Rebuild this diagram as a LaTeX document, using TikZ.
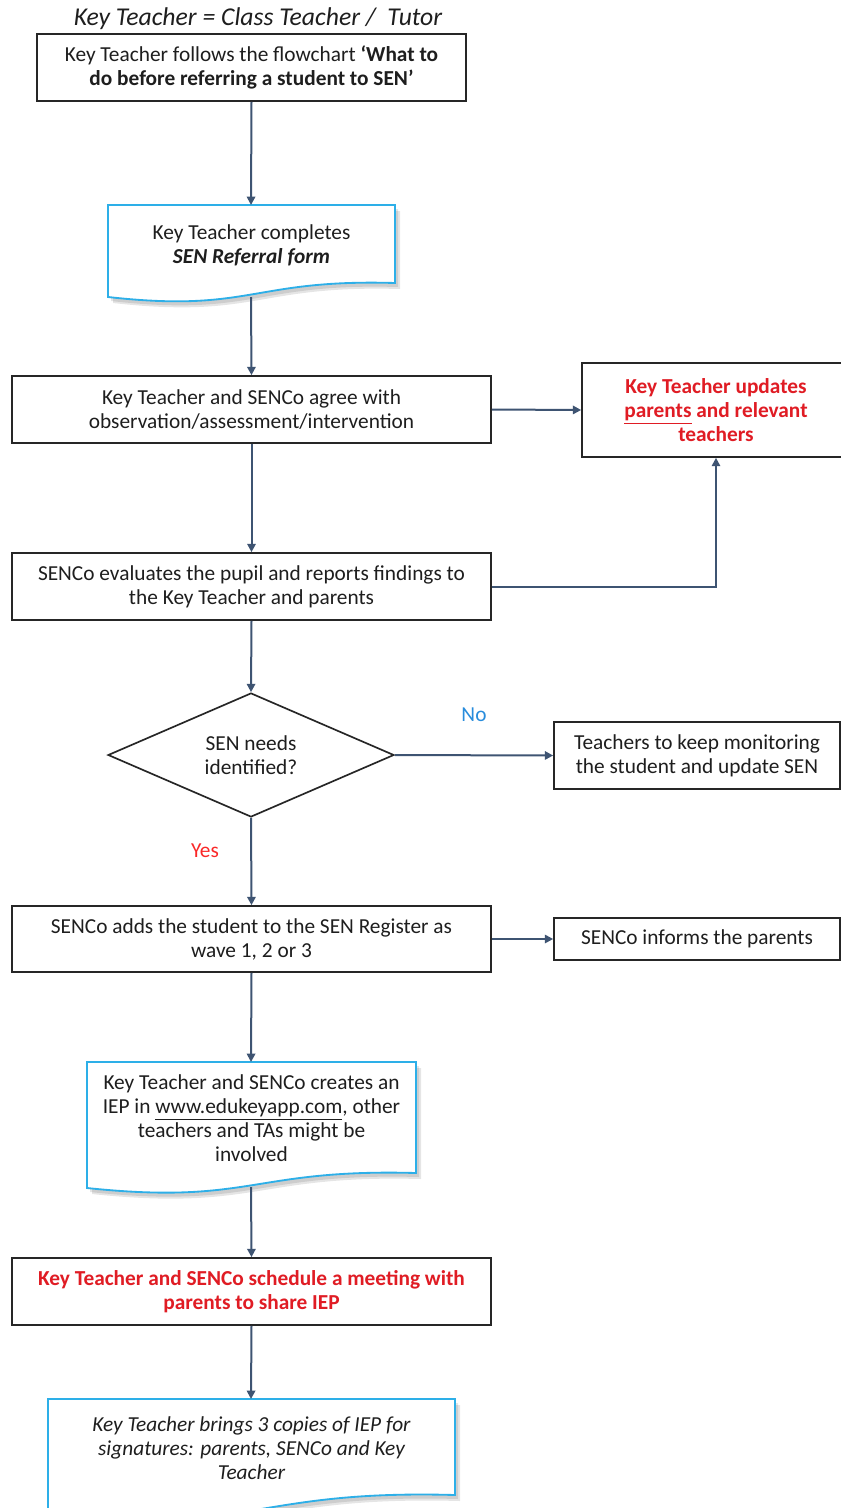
\documentclass[tikz,border=0pt]{standalone}
\usepackage{fontspec}
\setmainfont{Carlito}
\usetikzlibrary{arrows.meta,shapes.geometric}
\definecolor{conn}{RGB}{62,84,114}
\definecolor{docblue}{RGB}{45,175,232}
\definecolor{redtxt}{RGB}{224,28,36}
\definecolor{yesred}{RGB}{250,40,40}
\definecolor{noblue}{RGB}{40,140,220}
\definecolor{txt}{RGB}{30,30,30}
\newcommand\docpath[5]{(#1,#2) -- (#3,#2) -- (#3,{#4-#5}) .. controls ({(#1+#3)/2},{#4-1.3*#5}) and ({(#1+#3)/2},{#4+1.15*#5}) .. (#1,#4) -- cycle}
\newcommand\docshape[5]{%
  \fill[black,opacity=0.10] [shift={(5,6)}] \docpath{#1}{#2}{#3}{#4}{#5};
  \fill[black,opacity=0.10] [shift={(3,4)}] \docpath{#1}{#2}{#3}{#4}{#5};
  \filldraw[draw=docblue,fill=white,line width=1.1pt] \docpath{#1}{#2}{#3}{#4}{#5};}
\tikzset{
  x=0.6pt,y=-0.6pt,
  every node/.style={font=\fontsize{12.8}{14.4}\selectfont,text=txt,align=center},
  box/.style={draw=black!85,line width=1pt,fill=white,inner sep=0pt},
  plain/.style={inner sep=0pt},
  arr/.style={draw=conn,line width=1.2pt,-{Triangle[length=5pt,width=5pt]}},
  redtext/.style={text=redtxt,font=\fontsize{12.8}{14.4}\selectfont\bfseries}
}
\begin{document}
\begin{tikzpicture}
\clip (0,0) rectangle (841,1508);
\fill[white] (0,0) rectangle (841,1508);

\node[plain,font=\fontsize{15.4}{18}\selectfont\itshape] (title) at (258,19) {Key Teacher = Class Teacher /\ \ Tutor};

\node[box,minimum width=257.4pt,minimum height=40.2pt] (b1) at (251.5,67.5)
  {Key Teacher follows the flowchart \textbf{‘What to}\\ \textbf{do before referring a student to SEN’}};

\docshape{108}{205}{395}{297}{14}
\node[plain] (doc1) at (251.5,245.5) {Key Teacher completes\\ \textbf{\itshape SEN Referral form}};
\coordinate (d1t) at (251,205);
\coordinate (d1b) at (251,297);

\node[box,minimum width=287.4pt,minimum height=40.2pt] (b3) at (251.5,409.5)
  {Key Teacher and SENCo agree with\\ observation/assessment/intervention};

\node[box,redtext,minimum width=160.8pt,minimum height=56.4pt] (red) at (716,410)
  {Key Teacher updates\\ \underline{parents} and relevant\\ teachers};

\node[box,minimum width=287.4pt,minimum height=40.2pt] (b4) at (251.5,586.5)
  {SENCo evaluates the pupil and reports findings to\\ the Key Teacher and parents};

\node[draw=black!85,line width=1pt,fill=white,shape=diamond,inner sep=-4pt,minimum width=171.6pt,minimum height=74.4pt] (dia) at (251,755)
  {SEN needs\\ identified?};

\node[box,minimum width=171.6pt,minimum height=40.2pt] (mon) at (697,755.5)
  {Teachers to keep monitoring\\ the student and update SEN};

\node[plain,text=noblue] (no) at (474,715) {No};
\node[plain,text=yesred] (yes) at (205,851) {Yes};

\node[box,minimum width=287.4pt,minimum height=39.6pt] (b6) at (251.5,939)
  {SENCo adds the student to the SEN Register as\\ wave 1, 2 or 3};

\node[box,minimum width=171.6pt,minimum height=25.2pt] (inf) at (697,939)
  {SENCo informs the parents};

\docshape{87}{1062}{416}{1188}{15}
\node[plain] (doc2) at (251.5,1118) {Key Teacher and SENCo creates an\\ IEP in \underline{www.edukeyapp.com}, other\\ teachers and TAs might be\\ involved};
\coordinate (d2t) at (251,1062);
\coordinate (d2b) at (251,1187);

\node[box,redtext,minimum width=287.4pt,minimum height=40.2pt] (b8) at (251.5,1291.5)
  {Key Teacher and SENCo schedule a meeting with\\ parents to share IEP};

\docshape{48}{1399}{455}{1514}{19}
\node[plain,font=\fontsize{12.8}{14.4}\selectfont\itshape] (doc3) at (251.5,1448) {Key Teacher brings 3 copies of IEP for\\ signatures: parents, SENCo and Key\\ Teacher};
\coordinate (d3t) at (251,1399);

\draw[arr] (b1.south) -- (d1t);
\draw[arr] (d1b) -- (b3.north);
\draw[arr] (b3.east) -- (red.west);
\draw[arr] (b3.south) -- (b4.north);
\draw[arr] (b4.east) -| (red.south);
\draw[arr] (b4.south) -- (dia.north);
\draw[arr] (dia.east) -- (mon.west);
\draw[arr] (dia.south) -- (b6.north);
\draw[arr] (b6.east) -- (inf.west);
\draw[arr] (b6.south) -- (d2t);
\draw[arr] (d2b) -- (b8.north);
\draw[arr] (b8.south) -- (d3t);
\end{tikzpicture}
\end{document}
